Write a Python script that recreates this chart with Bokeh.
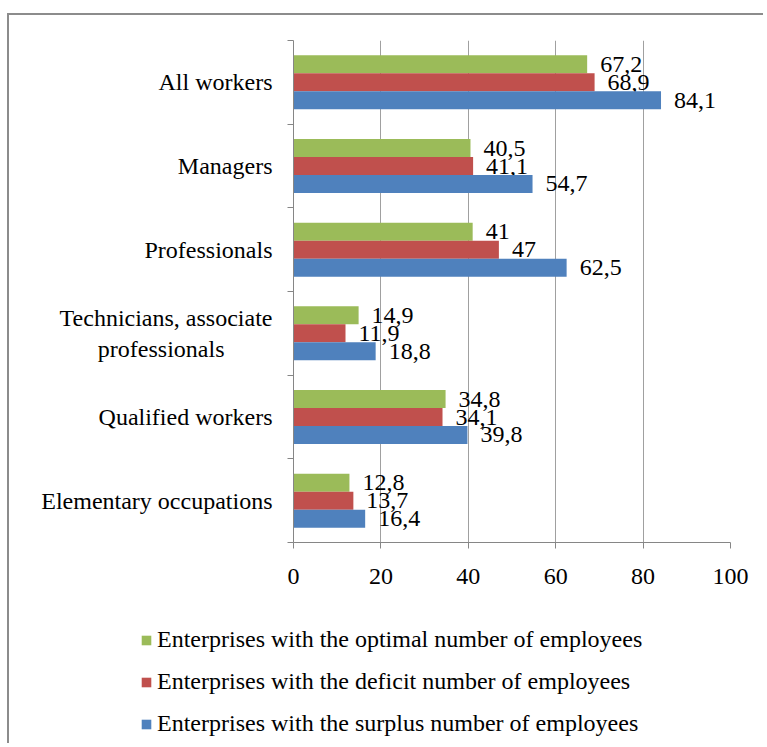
from bokeh.plotting import figure
from bokeh.models import FixedTicker, Legend, LegendItem, ColumnDataSource, Range1d
from bokeh.core.properties import value
from bokeh.embed import file_html
from bokeh.resources import INLINE

categories = ["All workers", "Managers", "Professionals",
              "Technicians, associate\nprofessionals" + "\u00a0" * 8, "Qualified workers",
              "Elementary occupations"]
optimal = [67.2, 40.5, 41, 14.9, 34.8, 12.8]
deficit = [68.9, 41.1, 47, 11.9, 34.1, 13.7]
surplus = [84.1, 54.7, 62.5, 18.8, 39.8, 16.4]
series_names = ["Enterprises with the optimal number of employees",
                "Enterprises with the deficit number of employees",
                "Enterprises with the surplus number of employees"]
series_colors = ["#9BBB59", "#C0504D", "#4F81BD"]
x_ticks = [0, 20, 40, 60, 80, 100]

FONT = "'Liberation Serif', 'Times New Roman', 'DejaVu Serif', serif"
FS = "24px"
n = len(categories)
centers = [n - i - 0.5 for i in range(n)]
bar_h = 0.215
offsets = [bar_h, 0.0, -bar_h]

W = 756
H1 = 587
H2 = 143

p = figure(width=W, height=H1, x_range=Range1d(0, 100), y_range=Range1d(0, n),
           output_backend="svg", toolbar_location=None,
           min_border_left=284, min_border_right=35, min_border_top=25,
           min_border_bottom=60)
p.outline_line_color = None
p.background_fill_color = "white"
p.border_fill_color = "white"
p.styles = {"border-left": "2px solid #8c8c8c", "border-top": "2px solid #8c8c8c",
            "margin-top": "13px", "margin-left": "7px"}

for vals, col, off in zip([optimal, deficit, surplus], series_colors, offsets):
    src = ColumnDataSource(dict(
        y=[c + off for c in centers],
        v=vals,
        lab=[f"{v:g}".replace(".", ",") for v in vals],
    ))
    p.hbar(y="y", left=0, right="v", height=bar_h, source=src,
           fill_color=col, line_color=None)
    p.text(x="v", y="y", text="lab", source=src, x_offset=13,
           text_baseline="middle", text_align="left",
           text_font=value(FONT), text_font_size=FS, text_color="black")

# x axis
p.xaxis.ticker = FixedTicker(ticks=x_ticks)
p.xaxis.axis_line_color = "#868686"
p.xaxis.major_tick_line_color = "#868686"
p.xaxis.major_tick_out = 6
p.xaxis.major_tick_in = 0
p.xaxis.minor_tick_line_color = None
p.xaxis.major_label_standoff = 20
p.xaxis.major_label_text_font = FONT
p.xaxis.major_label_text_font_size = FS
p.xaxis.major_label_text_color = "black"
p.xgrid.ticker = FixedTicker(ticks=x_ticks)
p.xgrid.grid_line_color = "#a0a0a0"
p.ygrid.visible = False

# y axis
p.yaxis.ticker = FixedTicker(ticks=centers, minor_ticks=list(range(n + 1)))
p.yaxis.major_label_overrides = {c: lab for c, lab in zip(centers, categories)}
p.yaxis.axis_line_color = "#868686"
p.yaxis.major_tick_line_color = None
p.yaxis.major_tick_out = 0
p.yaxis.major_tick_in = 0
p.yaxis.minor_tick_line_color = "#868686"
p.yaxis.minor_tick_out = 6
p.yaxis.minor_tick_in = 0
p.yaxis.major_label_standoff = 15
p.yaxis.major_label_text_font = FONT
p.yaxis.major_label_text_font_size = FS
p.yaxis.major_label_text_color = "black"

# legend figure (separate root, frame covering the whole canvas)
p2 = figure(width=W, height=H2, x_range=Range1d(0, 1), y_range=Range1d(0, 1),
            output_backend="svg", toolbar_location=None,
            min_border=0, min_border_left=0, min_border_right=0,
            min_border_top=0, min_border_bottom=0)
p2.axis.visible = False
p2.grid.visible = False
p2.outline_line_color = None
p2.styles = {"border-left": "2px solid #8c8c8c", "margin-left": "7px"}
items = []
for name, col, vals in zip(series_names, series_colors, [optimal, deficit, surplus]):
    r = p2.hbar(y=centers, left=0, right=vals, height=bar_h,
                fill_color=col, line_color=None, visible=False)
    items.append(LegendItem(label=name, renderers=[r]))
legend = Legend(items=items, location=(131, 6), orientation="vertical",
                glyph_width=12, glyph_height=12, label_height=23,
                label_text_font=FONT, label_text_font_size=FS,
                label_text_color="black", spacing=15, padding=0, margin=0,
                label_standoff=5, border_line_color=None,
                background_fill_alpha=0, inactive_fill_alpha=0,
                click_policy="none")
p2.add_layout(legend)

open("out.html", "w").write(file_html([p, p2], INLINE))
